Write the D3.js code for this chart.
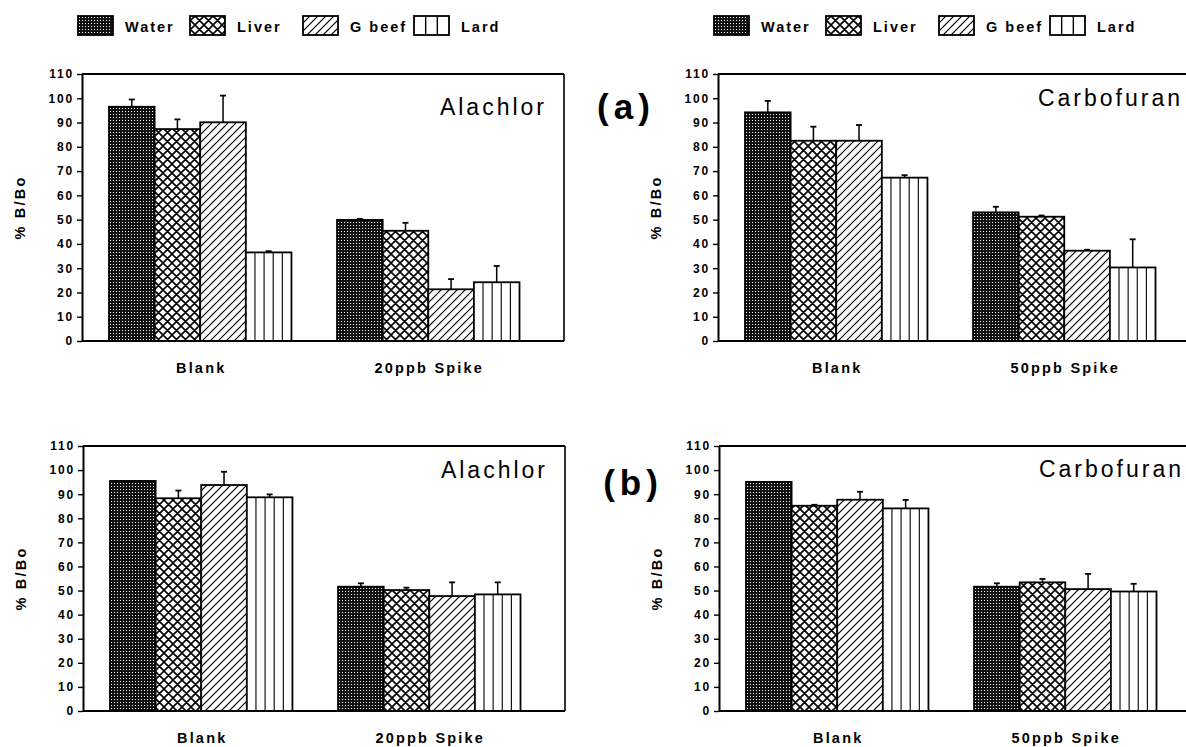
<!DOCTYPE html>
<html>
<head>
<meta charset="utf-8">
<script src="https://cdn.jsdelivr.net/npm/d3@7"></script>
<style>
  html, body { margin: 0; padding: 0; background: #fff; }
  svg { display: block; }
  text { font-family: "Liberation Sans", Arial, Helvetica, sans-serif; fill: #000; }
</style>
</head>
<body>
<svg id="chart" width="1186" height="747"></svg>
<script>
// ---------- data ----------
const seriesNames = ["Water", "Liver", "G beef", "Lard"];
const alachlorCats = ["Blank", "20ppb Spike"];
const carbofuranCats = ["Blank", "50ppb Spike"];
const yTicks = [0, 10, 20, 30, 40, 50, 60, 70, 80, 90, 100, 110];

// values per category: [Water, Liver, G beef, Lard]
const alachlorA      = [[96.5, 87.3, 90.1, 36.5], [49.9, 45.4, 21.3, 24.2]];
const alachlorAErr   = [[3.0, 4.0, 11.0, 0.5], [0.4, 3.3, 4.2, 6.7]];
const carbofuranA    = [[94.2, 82.5, 82.5, 67.3], [53.0, 51.2, 37.2, 30.3]];
const carbofuranAErr = [[4.7, 5.8, 6.5, 1.0], [2.3, 0.5, 0.4, 11.6]];
const alachlorB      = [[95.5, 88.3, 93.8, 88.7], [51.6, 50.2, 47.7, 48.4]];
const alachlorBErr   = [[0, 3.2, 5.5, 1.2], [1.4, 1.0, 5.7, 5.0]];
const carbofuranB    = [[95.1, 85.2, 87.7, 84.1], [51.6, 53.4, 50.6, 49.6]];
const carbofuranBErr = [[0, 0.4, 3.3, 3.5], [1.4, 1.4, 6.3, 3.2]];

// ---------- layout ----------
const panels = [
  { title: "Alachlor",   cats: alachlorCats,   vals: alachlorA,   errs: alachlorAErr,   x: 82,  y: 74,  h: 267, titleDy: 41 },
  { title: "Carbofuran", cats: carbofuranCats, vals: carbofuranA, errs: carbofuranAErr, x: 718, y: 74,  h: 267, titleDy: 32 },
  { title: "Alachlor",   cats: alachlorCats,   vals: alachlorB,   errs: alachlorBErr,   x: 83,  y: 446, h: 265, titleDy: 32 },
  { title: "Carbofuran", cats: carbofuranCats, vals: carbofuranB, errs: carbofuranBErr, x: 719, y: 446, h: 265, titleDy: 31 }
];
const panelW = 482;
const legends = [{ x: 78, y: 16 }, { x: 714, y: 16 }];
const panelLabels = [{ t: "(a)", x: 626, y: 119 }, { t: "(b)", x: 633, y: 495 }];

const svg = d3.select("#chart");
const defs = svg.append("defs");

// Water: dense dark stipple
const pW = defs.append("pattern").attr("id", "pWater").attr("patternUnits", "userSpaceOnUse")
  .attr("width", 3).attr("height", 3);
pW.append("rect").attr("width", 3).attr("height", 3).attr("fill", "#111");
pW.append("rect").attr("x", 1).attr("y", 1).attr("width", 1).attr("height", 1).attr("fill", "#fff");

// Liver: diagonal crosshatch
const pL = defs.append("pattern").attr("id", "pLiver").attr("patternUnits", "userSpaceOnUse")
  .attr("width", 9).attr("height", 9);
pL.append("rect").attr("width", 9).attr("height", 9).attr("fill", "#fff");
pL.append("path").attr("d", "M0,0 L9,9 M0,9 L9,0 M-1,1 L1,-1 M8,10 L10,8 M-1,8 L1,10 M8,-1 L10,1")
  .attr("stroke", "#000").attr("stroke-width", 1.6);

// G beef: forward diagonal
const pG = defs.append("pattern").attr("id", "pBeef").attr("patternUnits", "userSpaceOnUse")
  .attr("width", 8).attr("height", 8);
pG.append("rect").attr("width", 8).attr("height", 8).attr("fill", "#fff");
pG.append("path").attr("d", "M-2,2 L2,-2 M0,8 L8,0 M6,10 L10,6")
  .attr("stroke", "#000").attr("stroke-width", 1.2);

const fills = { "Water": "url(#pWater)", "Liver": "url(#pLiver)", "G beef": "url(#pBeef)", "Lard": "#fff" };
const lardLines = { "Lard": true };

const y = d3.scaleLinear().domain([0, 110]);

panels.forEach(p => {
  const g = svg.append("g").attr("transform", `translate(${p.x},${p.y})`);
  y.range([p.h, 0]);
  const x0 = d3.scaleBand().domain(p.cats).range([27, 437.5]).paddingInner(0.2);
  const x1 = d3.scaleBand().domain(seriesNames).range([0, x0.bandwidth()]);

  // bars
  p.cats.forEach((c, ci) => {
    const gg = g.append("g").attr("transform", `translate(${x0(c)},0)`);
    seriesNames.forEach((s, si) => {
      const v = p.vals[ci][si];
      const e = p.errs[ci][si];
      const bx = x1(s), bw = x1.bandwidth();
      if (e > 0) {
        const cx = bx + bw / 2;
        gg.append("line").attr("x1", cx).attr("x2", cx).attr("y1", y(v)).attr("y2", y(v + e))
          .attr("stroke", "#000").attr("stroke-width", 1.5);
        gg.append("line").attr("x1", cx - 3).attr("x2", cx + 3).attr("y1", y(v + e)).attr("y2", y(v + e))
          .attr("stroke", "#000").attr("stroke-width", 1.8);
      }
      gg.append("rect").attr("x", bx).attr("y", y(v)).attr("width", bw).attr("height", y(0) - y(v))
        .attr("fill", fills[s]).attr("stroke", "#000").attr("stroke-width", 1.8);
      if (lardLines[s]) {
        [1, 2, 3, 4].forEach(k => {
          gg.append("line").attr("x1", bx + bw * k / 5).attr("x2", bx + bw * k / 5)
            .attr("y1", y(v)).attr("y2", y(0)).attr("stroke", "#000").attr("stroke-width", 1.1);
        });
      }
    });
    g.append("text").attr("x", x0(c) + x0.bandwidth() / 2 + 1).attr("y", p.h + 32)
      .attr("text-anchor", "middle").attr("font-size", 14.5).attr("font-weight", "bold")
      .attr("letter-spacing", 2.2).text(c);
  });

  // frame
  g.append("line").attr("x1", 0).attr("x2", panelW).attr("y1", 0).attr("y2", 0)
    .attr("stroke", "#000").attr("stroke-width", 2);
  g.append("line").attr("x1", panelW).attr("x2", panelW).attr("y1", 0).attr("y2", p.h)
    .attr("stroke", "#000").attr("stroke-width", 1.6);
  g.append("line").attr("x1", 0).attr("x2", panelW).attr("y1", p.h).attr("y2", p.h)
    .attr("stroke", "#000").attr("stroke-width", 2);

  // y axis
  const ax = g.append("g").call(d3.axisLeft(y).tickValues(yTicks).tickSize(5).tickPadding(3).tickSizeOuter(0));
  ax.select(".domain").attr("stroke-width", 2);
  ax.selectAll(".tick line").attr("stroke-width", 1.4);
  ax.selectAll(".tick text").attr("font-size", 12).attr("font-weight", "bold")
    .attr("font-family", "'Liberation Sans', Arial, sans-serif").attr("letter-spacing", 1.8);

  // y label
  g.append("text").attr("transform", `translate(-62,${p.h / 2}) rotate(-90)`)
    .attr("text-anchor", "middle").attr("dy", "0.35em").attr("font-size", 14.5).attr("font-weight", "bold")
    .attr("letter-spacing", 2.2).text("% B/Bo");

  // title
  g.append("text").attr("x", panelW - 17).attr("y", p.titleDy).attr("text-anchor", "end")
    .attr("font-size", 23).attr("letter-spacing", 3).text(p.title);
});

panelLabels.forEach(l => {
  svg.append("text").attr("x", l.x).attr("y", l.y).attr("text-anchor", "middle")
    .attr("font-size", 35).attr("font-weight", "bold").attr("letter-spacing", 5).text(l.t);
});

// legends
const legOffsets = [0, 112, 225, 336];
legends.forEach(L => {
  const lg = svg.append("g").attr("transform", `translate(${L.x},${L.y})`);
  seriesNames.forEach((s, i) => {
    const sx = legOffsets[i];
    lg.append("rect").attr("x", sx).attr("y", 0).attr("width", 35).attr("height", 19)
      .attr("fill", fills[s]).attr("stroke", "#000").attr("stroke-width", 1.8);
    if (lardLines[s]) {
      [1, 2].forEach(k => lg.append("line").attr("x1", sx + 35 * k / 3).attr("x2", sx + 35 * k / 3)
        .attr("y1", 0).attr("y2", 19).attr("stroke", "#000").attr("stroke-width", 1.4));
    }
    lg.append("text").attr("x", sx + 47).attr("y", 15.5).attr("font-size", 14.5).attr("font-weight", "bold")
      .attr("letter-spacing", 2).text(s);
  });
});
</script>
</body>
</html>
